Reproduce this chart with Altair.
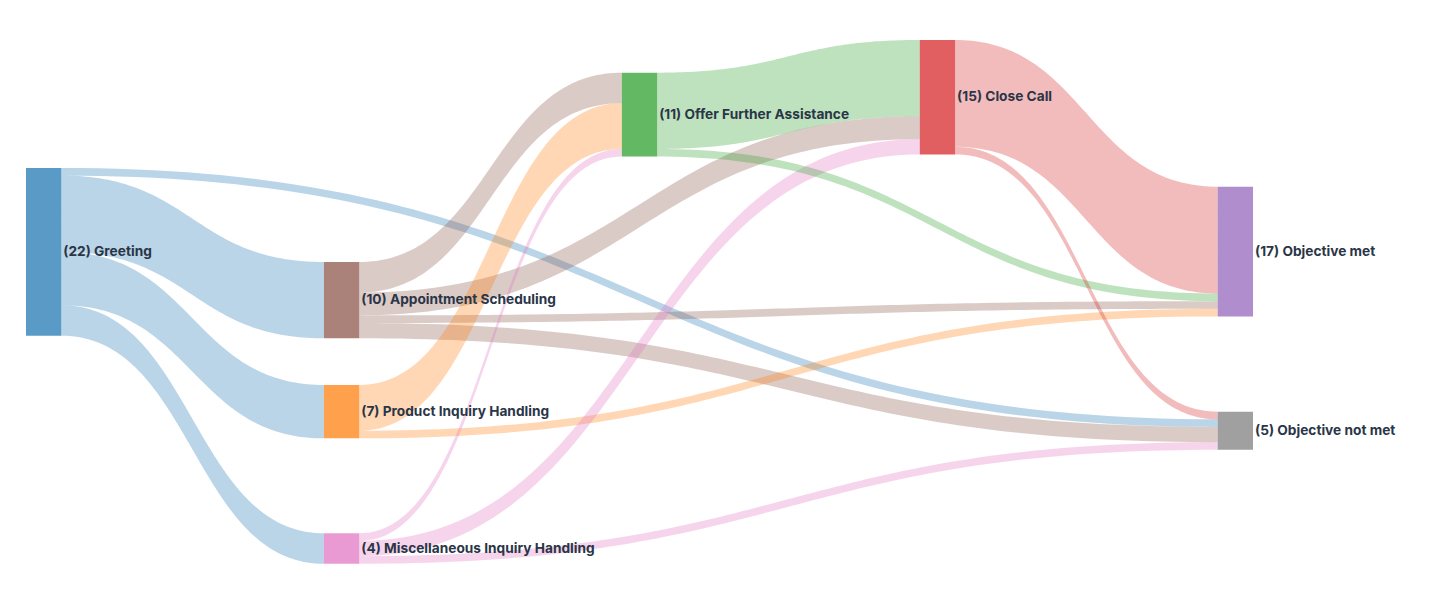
import altair as alt
import numpy as np
import pandas as pd

# ---------------- data ----------------
node_names = [
    "Greeting",
    "Appointment Scheduling",
    "Product Inquiry Handling",
    "Miscellaneous Inquiry Handling",
    "Offer Further Assistance",
    "Close Call",
    "Objective met",
    "Objective not met",
]
node_colors = ["#1f77b4", "#8c564b", "#ff7f0e", "#e377c2",
               "#2ca02c", "#d62728", "#9467bd", "#7f7f7f"]

sources = [0, 0, 0, 0, 1, 1, 1, 1, 2, 2, 3, 3, 3, 4, 4, 5, 5]
targets = [7, 1, 2, 3, 4, 5, 6, 7, 4, 6, 4, 5, 7, 5, 6, 6, 7]
values = [1, 10, 7, 4, 4, 3, 1, 2, 6, 1, 1, 2, 1, 10, 1, 14, 1]

# ---------------- layout (column index, top offset in flow units) ----------------
node_column = [0, 1, 1, 1, 2, 3, 4, 4]
node_top = [16.77, 29.10, 45.22, 64.66, 4.28, 0.0, 19.23, 48.72]
NODE_W = 35.3 / 298.0
Y_MAX = 70.0

n = len(node_names)
L = len(values)
out_sum = [0] * n
in_sum = [0] * n
for s, t, v in zip(sources, targets, values):
    out_sum[s] += v
    in_sum[t] += v
node_value = [max(a, b) for a, b in zip(out_sum, in_sum)]

# outgoing offsets in list order
off = list(node_top)
link_sy = []
for s, v in zip(sources, values):
    link_sy.append(off[s])
    off[s] += v

# incoming offsets sorted by source position
link_ty = [0.0] * L
for t in range(n):
    idx = sorted([i for i in range(L) if targets[i] == t],
                 key=lambda i: (node_top[sources[i]], i))
    o = node_top[t]
    for i in idx:
        link_ty[i] = o
        o += values[i]

ts = np.linspace(0, 1, 90)
rows = []
for i in range(L):
    s, t, v = sources[i], targets[i], values[i]
    x0 = node_column[s] + NODE_W
    x1 = node_column[t]
    xm = (x0 + x1) / 2
    xt = (1 - ts) ** 3 * x0 + 3 * (1 - ts) ** 2 * ts * xm + 3 * (1 - ts) * ts ** 2 * xm + ts ** 3 * x1
    h = (1 - ts) ** 3 + 3 * (1 - ts) ** 2 * ts
    ytop = link_sy[i] * h + link_ty[i] * (1 - h)
    ybot = (link_sy[i] + v) * h + (link_ty[i] + v) * (1 - h)
    for xx, a, b in zip(xt, ytop, ybot):
        rows.append({"link": i, "source": node_names[s], "x": xx, "y": a, "y2": b})
link_df = pd.DataFrame(rows)

node_df = pd.DataFrame({
    "name": node_names,
    "x0": [c for c in node_column],
    "x1": [c + NODE_W for c in node_column],
    "y0": node_top,
    "y1": [t + v for t, v in zip(node_top, node_value)],
    "ym": [t + v / 2 for t, v in zip(node_top, node_value)],
    "label": [f"({v}) {nm}" for v, nm in zip(node_value, node_names)],
})

xs = alt.Scale(domain=[0, 4 + NODE_W], nice=False, zero=False)
ys = alt.Scale(domain=[0, Y_MAX], nice=False, zero=False, reverse=True)
cs = alt.Scale(domain=node_names, range=node_colors)

links = alt.Chart(link_df).mark_area(opacity=0.31, interpolate="linear").encode(
    x=alt.X("x:Q", scale=xs, axis=None),
    y=alt.Y("y:Q", scale=ys, axis=None, stack=False),
    y2="y2:Q",
    color=alt.Color("source:N", scale=cs, legend=None),
    detail="link:N",
)

nodes = alt.Chart(node_df).mark_rect(opacity=0.74).encode(
    x=alt.X("x0:Q", scale=xs, axis=None),
    x2="x1:Q",
    y=alt.Y("y0:Q", scale=ys, axis=None),
    y2="y1:Q",
    color=alt.Color("name:N", scale=cs, legend=None),
)

labels = alt.Chart(node_df).mark_text(
    align="left", baseline="middle", dx=2, font="Inter",
    fontSize=13.7, fontWeight="bold", color="#2a3547",
).encode(
    x=alt.X("x1:Q", scale=xs, axis=None),
    y=alt.Y("ym:Q", scale=ys, axis=None),
    text="label:N",
)

chart = alt.layer(links, nodes, labels).properties(
    width=1227,
    height=534,
    padding={"left": 26, "top": 40, "right": 178, "bottom": 30},
    autosize=alt.AutoSizeParams(type="none"),
    background="white",
).configure_view(stroke=None)

chart.save("out.html", embed_options={"renderer": "svg", "actions": False})
